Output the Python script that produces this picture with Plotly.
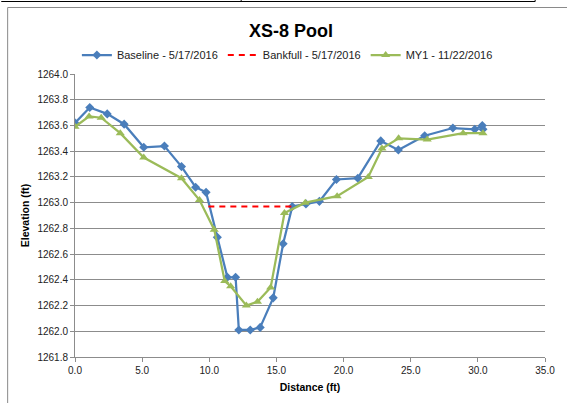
import plotly.graph_objects as go

# Cross-section survey XS-8 (pool): station (ft) vs. elevation (ft)
baseline_x = [0.0, 1.1, 2.4, 3.66, 5.12, 6.66, 7.93, 8.98, 9.76, 10.6, 11.35, 11.96,
              12.2, 13.05, 13.79, 14.76, 15.5, 16.18, 17.2, 18.2, 19.47, 21.06,
              22.77, 24.08, 26.04, 28.14, 29.77, 30.33, 30.38]
baseline_y = [1263.62, 1263.74, 1263.69, 1263.61, 1263.43, 1263.44, 1263.28, 1263.12,
              1263.08, 1262.73, 1262.42, 1262.42, 1262.01, 1262.01, 1262.03, 1262.26,
              1262.68, 1262.97, 1262.99, 1263.01, 1263.18, 1263.19, 1263.48, 1263.41,
              1263.52, 1263.58, 1263.57, 1263.60, 1263.57]

bankfull_x = [9.93, 16.2]
bankfull_y = [1262.97, 1262.97]

my1_x = [0.0, 1.05, 1.95, 3.37, 5.12, 7.93, 9.27, 10.37, 11.15, 11.59, 12.76, 13.59,
         14.57, 15.6, 17.15, 19.52, 21.84, 22.86, 24.1, 26.23, 28.9, 30.38]
my1_y = [1263.59, 1263.67, 1263.66, 1263.54, 1263.35, 1263.19, 1263.02, 1262.79,
         1262.39, 1262.35, 1262.20, 1262.23, 1262.34, 1262.92, 1263.00, 1263.05,
         1263.20, 1263.42, 1263.50, 1263.49, 1263.54, 1263.54]

x_ticks = [0, 5, 10, 15, 20, 25, 30, 35]
y_ticks = [1261.8, 1262.0, 1262.2, 1262.4, 1262.6, 1262.8, 1263.0, 1263.2,
           1263.4, 1263.6, 1263.8, 1264.0]

FONT = "Liberation Sans, Arial, sans-serif"
GRID = "#8c8c8c"

# plot area in pixels
L, R, T, B = 75, 553, 74, 357
W, H = 567, 403


def px_x(p):
    return (p - L) / (R - L)


def px_y(p):
    return (B - p) / (B - T)


fig = go.Figure()
fig.add_trace(go.Scatter(
    x=baseline_x, y=baseline_y, mode="lines+markers", name="Baseline - 5/17/2016",
    line=dict(color="#4a7ebb", width=2.25),
    marker=dict(symbol="diamond", size=7, color="#4a7ebb"),
))
fig.add_trace(go.Scatter(
    x=bankfull_x, y=bankfull_y, mode="lines", name="Bankfull - 5/17/2016",
    line=dict(color="#ff0000", width=2, dash="6px,5px"),
))
fig.add_trace(go.Scatter(
    x=my1_x, y=my1_y, mode="lines+markers", name="MY1 - 11/22/2016",
    line=dict(color="#9bbb59", width=2.25),
    marker=dict(symbol="triangle-up", size=8, color="#9bbb59"),
))

shapes = [
    # chart area frame
    dict(type="rect", xref="paper", yref="paper",
         x0=px_x(6.5), x1=px_x(580), y0=px_y(410), y1=px_y(7.5),
         line=dict(color="#8a8a8a", width=1), layer="below"),
    # table borders above the chart
    dict(type="line", xref="paper", yref="paper",
         x0=px_x(0), x1=px_x(543), y0=px_y(1.5), y1=px_y(1.5),
         line=dict(color="#000000", width=1.2)),
    dict(type="line", xref="paper", yref="paper",
         x0=px_x(244), x1=px_x(244), y0=px_y(1.5), y1=px_y(-2),
         line=dict(color="#000000", width=1)),
    dict(type="line", xref="paper", yref="paper",
         x0=px_x(543), x1=px_x(543), y0=px_y(1.5), y1=px_y(-2),
         line=dict(color="#000000", width=1)),
]

fig.update_layout(
    width=W, height=H,
    margin=dict(l=L, r=W - R, t=T, b=H - B, pad=0),
    paper_bgcolor="white", plot_bgcolor="white",
    font=dict(family=FONT, color="#222222"),
    title=dict(text="<b>XS-8 Pool</b>", x=291 / W, xanchor="center",
               y=1 - 31 / H, yanchor="middle",
               font=dict(size=18, color="#000000", family=FONT)),
    legend=dict(orientation="h", x=px_x(291), xanchor="center",
                y=px_y(55), yanchor="middle",
                font=dict(size=11, color="#222222", family=FONT),
                bgcolor="rgba(0,0,0,0)", itemwidth=30, tracegroupgap=0),
    showlegend=True,
    shapes=shapes,
    xaxis=dict(
        range=[0, 35], tickvals=x_ticks, ticktext=[f"{v:.1f}" for v in x_ticks],
        showgrid=False, zeroline=False,
        showline=True, linecolor=GRID, linewidth=1,
        ticks="outside", ticklen=4, tickcolor=GRID,
        tickfont=dict(size=10, family=FONT, color="#222222"),
        title=dict(text="<b>Distance (ft)</b>", standoff=8,
                   font=dict(size=10.5, family=FONT, color="#000000")),
    ),
    yaxis=dict(
        range=[1261.8, 1264.0], tickvals=y_ticks, ticktext=[f"{v:.1f}" for v in y_ticks],
        showgrid=True, gridcolor=GRID, gridwidth=1, zeroline=False,
        showline=True, linecolor=GRID, linewidth=1,
        ticks="outside", ticklen=4, tickcolor=GRID,
        tickfont=dict(size=10, family=FONT, color="#222222"),
        title=dict(text="<b>Elevation (ft)</b>", standoff=5,
                   font=dict(size=10.5, family=FONT, color="#000000")),
    ),
)

fig.write_html("out.html")
